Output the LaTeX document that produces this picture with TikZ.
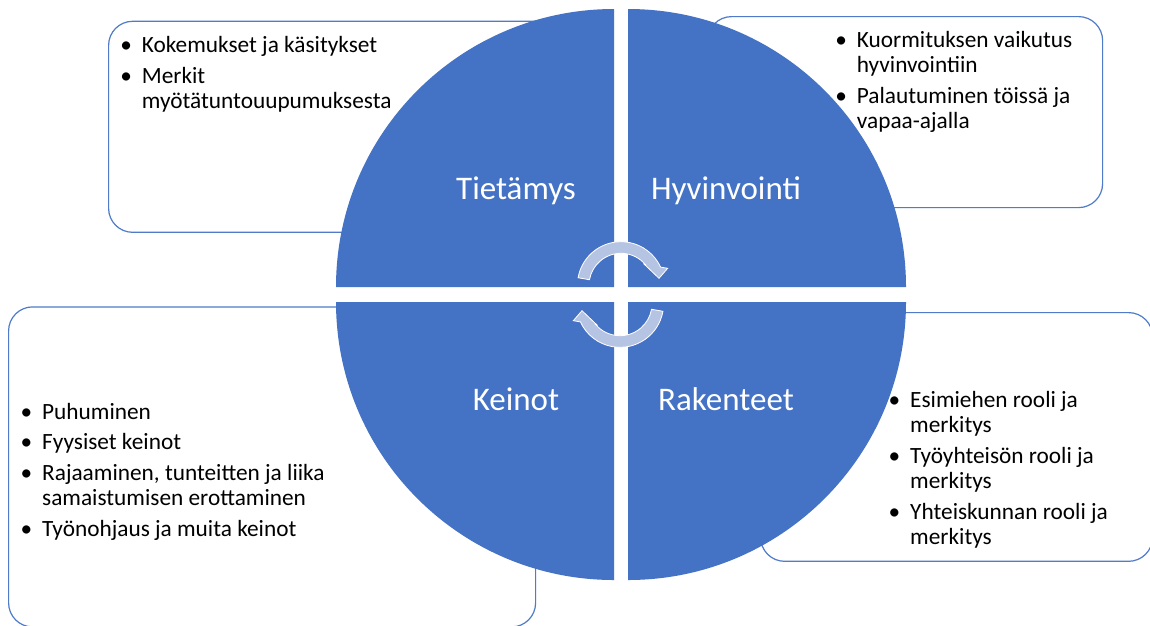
\documentclass[tikz,border=0pt]{standalone}
\usepackage{fontspec}
\setmainfont{Carlito}
\definecolor{qblue}{RGB}{68,114,196}
\definecolor{boxline}{RGB}{79,123,200}
\definecolor{arrowfill}{RGB}{182,196,228}
\newcommand\bitem{\llap{•\hspace{10pt}}}
\begin{document}
\begin{tikzpicture}[x=1pt,y=-1pt,
  infobox/.style={draw=boxline, line width=1.2pt, rounded corners=24pt, anchor=north west, inner sep=0},
  quad/.style={fill=qblue},
  quadlabel/.style={text=white, font=\fontsize{33}{40}\selectfont, anchor=base, inner sep=0},
  bullets/.style={anchor=base west, align=left, inner sep=0, font=\fontsize{23.3}{25.5}\selectfont},
  cyc/.style={fill=arrowfill, draw=white, line width=0.8pt}]
\useasboundingbox (0,0) rectangle (1150,625);
\fill[white] (0,0) rectangle (1150,625);
% boxes
\node[infobox, minimum width=492pt, minimum height=211pt] (tlbox) at (108,20.7) {};
\node[infobox, minimum width=395pt, minimum height=191pt] (trbox) at (707,16) {};
\node[infobox, minimum width=527pt, minimum height=320pt] (blbox) at (8,306.3) {};
\node[infobox, minimum width=392pt, minimum height=248.7pt] (brbox) at (760,312) {};
% quadrants
\fill[quad] (614,287) -- (336,287) arc[start angle=180, end angle=270, radius=278] -- cycle;
\fill[quad] (628,287) -- (906,287) arc[start angle=0, end angle=-90, radius=278] -- cycle;
\fill[quad] (614,302) -- (336,302) arc[start angle=180, end angle=90, radius=278] -- cycle;
\fill[quad] (628,302) -- (906,302) arc[start angle=0, end angle=90, radius=278] -- cycle;
% labels
\node[quadlabel] (tl) at (516,199) {Tietämys};
\node[quadlabel] (tr) at (726,199) {Hyvinvointi};
\node[quadlabel] (bl) at (516,410) {Keinot};
\node[quadlabel] (br) at (726,410) {Rakenteet};
% cycle arrows
\begin{scope}[shift={(621,285.3)}, yscale=-1]
  \path[cyc] (170:43.6) arc[start angle=170, end angle=24.7, radius=43.6] -- (46.7,17) -- (38,7) -- (23.3,21) -- (40.6:32) arc[start angle=40.6, end angle=170, radius=32] -- cycle;
\end{scope}
\begin{scope}[rotate around={180:(620.5,294.5)}]
\begin{scope}[shift={(621,285.3)}, yscale=-1]
  \path[cyc] (170:43.6) arc[start angle=170, end angle=24.7, radius=43.6] -- (46.7,17) -- (38,7) -- (23.3,21) -- (40.6:32) arc[start angle=40.6, end angle=170, radius=32] -- cycle;
\end{scope}
\end{scope}
% texts (anchor = baseline of the last line)
\node[bullets] (tltext) at (141.7,108.7) {\bitem Kokemukset ja käsitykset\\[5pt]\bitem Merkit\\myötätuntouupumuksesta};
\node[bullets] (trtext) at (856.7,128.8) {\bitem Kuormituksen vaikutus\\hyvinvointiin\\[5pt]\bitem Palautuminen töissä ja\\vapaa-ajalla};
\node[bullets] (bltext) at (42,536) {\bitem Puhuminen\\[5pt]\bitem Fyysiset keinot\\[5pt]\bitem Rajaaminen, tunteitten ja liika\\samaistumisen erottaminen\\[5pt]\bitem Työnohjaus ja muita keinot};
\node[bullets] (brtext) at (910,544.8) {\bitem Esimiehen rooli ja\\merkitys\\[5pt]\bitem Työyhteisön rooli ja\\merkitys\\[5pt]\bitem Yhteiskunnan rooli ja\\merkitys};
\end{tikzpicture}
\end{document}
